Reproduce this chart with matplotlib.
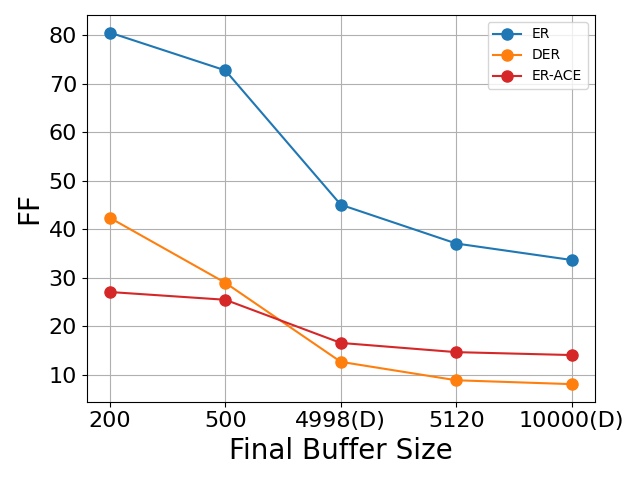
import matplotlib
matplotlib.use('Agg')
import matplotlib.pyplot as plt

buffer_labels = ['200', '500', '4998(D)', '5120', '10000(D)']
er = [80.6, 72.8, 45.1, 37.1, 33.7]
der = [42.4, 29.0, 12.7, 8.9, 8.1]
er_ace = [27.1, 25.5, 16.6, 14.7, 14.1]

x = list(range(len(buffer_labels)))

fig, ax = plt.subplots(figsize=(6.4, 4.8), dpi=100)
ax.plot(x, er, marker='o', markersize=8, color='#1f77b4', label='ER')
ax.plot(x, der, marker='o', markersize=8, color='#ff7f0e', label='DER')
ax.plot(x, er_ace, marker='o', markersize=8, color='#d62728', label='ER-ACE')

ax.set_xticks(x)
ax.set_xticklabels(buffer_labels, fontsize=16)
ax.tick_params(axis='y', labelsize=16)
ax.set_xlabel('Final Buffer Size', fontsize=20)
ax.set_ylabel('FF', fontsize=20)
ax.grid(True)
ax.legend(loc='upper right')
fig.tight_layout()
fig.savefig('out.png')
